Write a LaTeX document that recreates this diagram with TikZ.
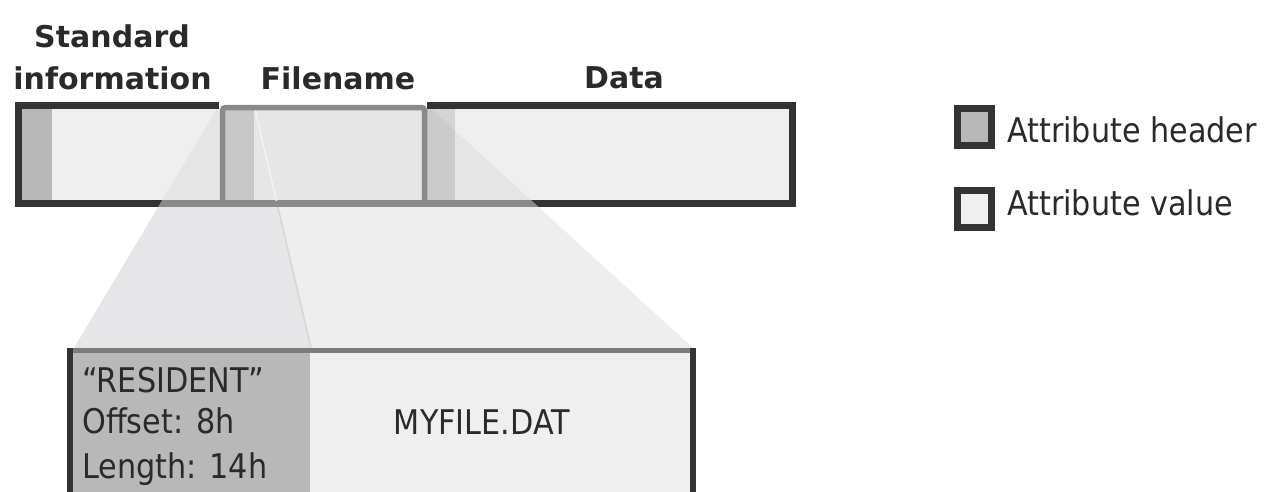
\documentclass[tikz,border=0pt]{standalone}
\usepackage{fontspec}
\setmainfont{DejaVu Sans}
\usetikzlibrary{calc}
\definecolor{ink}{HTML}{333333}
\definecolor{txt}{HTML}{2A2A2A}
\definecolor{hdr}{HTML}{B8B8B8}
\definecolor{val}{HTML}{EFEFEF}
\definecolor{fnhdr}{HTML}{C8C8C8}
\definecolor{fnval}{HTML}{E6E6E6}
\definecolor{dhdr}{HTML}{D4D4D4}
\definecolor{zoomL}{HTML}{E6E6E8}
\definecolor{zoomR}{HTML}{EEEEEE}
\definecolor{edge}{HTML}{8A8A8A}
\definecolor{boxtop}{HTML}{7C7C7C}
\newcommand\hsq[1]{\scalebox{0.89}[1]{#1}}
\begin{document}
\begin{tikzpicture}[x=1pt,y=-1pt,
  lbl/.style={font=\fontsize{30}{36}\selectfont\bfseries, text=txt, inner sep=0pt, anchor=base},
  thin/.style={font=\fontsize{34}{40}\selectfont, text=txt, inner sep=0pt},
  border/.style={draw=ink, line width=7pt},
  legendbox/.style={draw=ink, line width=7pt, minimum width=34pt, minimum height=37pt, inner sep=0pt}]
\useasboundingbox (0,0) rectangle (1267,491);
\fill[white] (0,0) rectangle (1267,491);

% zoom trapezoid corners
\coordinate (A) at (219,105);
\coordinate (B) at (427,105);
\coordinate (C) at (693,348);
\coordinate (D) at (74,348);
\coordinate (E) at (254,105);
\coordinate (F) at (311,348);

% bar fills
\fill[hdr] (21,109) rectangle (52,200);
\fill[val] (52,109) rectangle (427,200);
\fill[dhdr] (427,109) rectangle (455,200);
\fill[val] (455,109) rectangle (789,200);
\begin{scope}
  \clip (21,109) rectangle (789,200);
  \fill[black, opacity=0.04] (A) -- (B) -- (C) -- (D) -- cycle;
\end{scope}

% zoom area below the bar
\begin{scope}
  \clip (0,200) rectangle (1267,348);
  \fill[zoomL] (A) -- (E) -- (F) -- (D) -- cycle;
  \fill[zoomR] (E) -- (B) -- (C) -- (F) -- cycle;
  \draw[black!16, line width=1.5pt] (E) -- (F);
\end{scope}

% bar border
\draw[border] (18,105.5) rectangle (792.5,203.5);
\begin{scope}
  \clip (A) -- (B) -- (C) -- (D) -- cycle;
  \fill[edge] (0,200) rectangle (1267,207);
\end{scope}

% filename attribute
\fill[white] (219,101) rectangle (427,109);
\fill[fnhdr] (225,110) rectangle (254,200);
\fill[fnval] (254,110) rectangle (422,200);
\begin{scope}
  \clip (225,110) rectangle (422,200);
  \draw[white!95!black, line width=1.5pt] (E) -- (F);
\end{scope}
\draw[edge, line width=5.5pt, rounded corners=3pt] (222.5,203) -- (222.5,107.5) -- (424.5,107.5) -- (424.5,203);

% zoomed box
\fill[hdr] (73,353) rectangle (310,500);
\fill[val] (310,353) rectangle (690,500);
\draw[boxtop, line width=5pt] (67,350.5) -- (696,350.5);
\draw[ink, line width=6pt] (70,348) -- (70,500);
\draw[ink, line width=6pt] (693,348) -- (693,500);

% labels
\node[lbl] (std1) at (112,47) {Standard};
\node[lbl] (std2) at (112.5,89) {information};
\node[lbl] (fn) at (338,89) {Filename};
\node[lbl] (data) at (624,88) {Data};

\node[thin, anchor=base west] (res) at (82,392) {\hsq{“RESIDENT”}};
\node[thin, anchor=base west] (off) at (82,433) {\hsq{Offset: 8h}};
\node[thin, anchor=base west] (len) at (82,478) {\hsq{Length: 14h}};
\node[thin, anchor=base] (myf) at (482,434) {\hsq{MYFILE.DAT}};

% legend
\node[legendbox, fill=hdr] (lh) at (974.5,127) {};
\node[legendbox, fill=val] (lv) at (974.5,209) {};
\node[thin, anchor=base west] (lht) at (1007,142) {\hsq{Attribute header}};
\node[thin, anchor=base west] (lvt) at (1007,215) {\hsq{Attribute value}};
\end{tikzpicture}
\end{document}
